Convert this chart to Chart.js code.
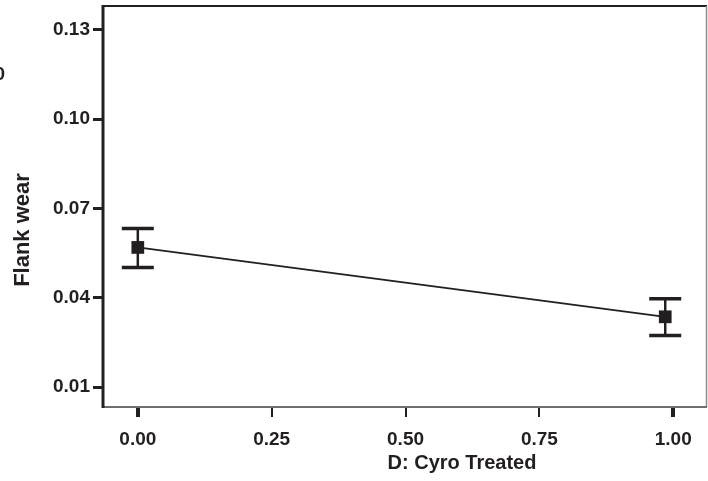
<!DOCTYPE html>
<html>
<head>
<meta charset="utf-8">
<script src="https://cdn.jsdelivr.net/npm/chart.js@4"></script>
<style>
html,body{margin:0;padding:0;background:#fff;overflow:hidden;}
#wrap{width:708px;height:481px;position:relative;overflow:hidden;}
#c{display:block;margin-top:-3px;}
</style>
</head>
<body>
<div id="wrap"><canvas id="c" width="716" height="484"></canvas></div>
<script>
// ---- data ----
const xValues = [0.0, 0.985];
const meanValues = [0.0569, 0.0336];
const upperValues = [0.0633, 0.0397];
const lowerValues = [0.0502, 0.0273];
const yTickLabels = [0.01, 0.04, 0.07, 0.10, 0.13];
const xTickLabels = [0.00, 0.25, 0.50, 0.75, 1.00];
const xTitle = 'D: Cyro Treated';
const yTitle = 'Flank wear';

const INK = '#231f20';
const FONT = '"Liberation Sans", Arial, sans-serif';
const SHIFT = 3; // canvas is offset upward by this many pixels

const errorBars = {
  id: 'errorBars',
  beforeDatasetsDraw(chart) {
    const ctx = chart.ctx, xs = chart.scales.x, ys = chart.scales.y;
    ctx.save();
    ctx.strokeStyle = INK;
    for (let i = 0; i < xValues.length; i++) {
      const px = xs.getPixelForValue(xValues[i]);
      const pt = ys.getPixelForValue(upperValues[i]);
      const pb = ys.getPixelForValue(lowerValues[i]);
      ctx.lineWidth = 2.5;
      ctx.beginPath(); ctx.moveTo(px, pt); ctx.lineTo(px, pb); ctx.stroke();
      ctx.lineWidth = 3.5;
      ctx.beginPath();
      ctx.moveTo(px - 16, pt); ctx.lineTo(px + 16, pt);
      ctx.moveTo(px - 16, pb); ctx.lineTo(px + 16, pb);
      ctx.stroke();
    }
    ctx.restore();
  }
};

const frame = {
  id: 'frame',
  afterDraw(chart) {
    const ctx = chart.ctx, a = chart.chartArea;
    ctx.save();
    ctx.strokeStyle = INK; ctx.lineWidth = 2;
    ctx.beginPath(); ctx.moveTo(a.left, a.top); ctx.lineTo(a.right, a.top); ctx.stroke();
    ctx.strokeStyle = '#8a8a8a'; ctx.lineWidth = 1.5;
    ctx.beginPath(); ctx.moveTo(a.right - 0.5, a.top); ctx.lineTo(a.right - 0.5, a.bottom); ctx.stroke();
    ctx.strokeStyle = '#6e6e6e'; ctx.lineWidth = 2;
    ctx.beginPath(); ctx.moveTo(a.left, a.bottom); ctx.lineTo(a.right, a.bottom); ctx.stroke();
    ctx.strokeStyle = INK; ctx.lineWidth = 3;
    ctx.beginPath(); ctx.moveTo(a.left, a.top - 1); ctx.lineTo(a.left, a.bottom + 1); ctx.stroke();
    // titles
    ctx.fillStyle = INK;
    ctx.font = 'bold 20px ' + FONT;
    ctx.textAlign = 'center'; ctx.textBaseline = 'middle';
    ctx.fillText(xTitle, 462, 463 + SHIFT);
    ctx.save();
    ctx.font = 'bold 22px ' + FONT;
    ctx.translate(23, 230 + SHIFT); ctx.rotate(-Math.PI / 2);
    ctx.fillText(yTitle, 0, 0);
    ctx.restore();
    // clipped stray label at top-left
    ctx.font = 'bold 19px ' + FONT;
    ctx.textAlign = 'right';
    ctx.fillText('0', 5, 75 + SHIFT);
    ctx.restore();
  }
};

new Chart(document.getElementById('c'), {
  type: 'scatter',
  data: {
    datasets: [{
      data: xValues.map((x, i) => ({x: x, y: meanValues[i]})),
      showLine: true,
      borderColor: INK,
      borderWidth: 1.8,
      backgroundColor: INK,
      pointStyle: 'rect',
      pointRadius: 9,
      pointHoverRadius: 9,
      pointBorderWidth: 0
    }]
  },
  options: {
    responsive: false,
    animation: false,
    events: [],
    layout: {padding: {top: 6, right: 1, left: 0, bottom: 0}},
    plugins: {legend: {display: false}, tooltip: {enabled: false}},
    scales: {
      x: {
        type: 'linear',
        min: -0.065, max: 1.063,
        afterBuildTicks(s) { s.ticks = xTickLabels.map(v => ({value: v})); },
        afterFit(s) { s.height = 74; s.paddingLeft = 0; s.paddingRight = 0; },
        grid: {drawOnChartArea: false, drawTicks: true, tickLength: 10, color: INK,
               lineWidth: (c) => (c.index === 0 || c.index === 4) ? 4 : 2},
        border: {display: false},
        ticks: {color: INK, font: {family: FONT, size: 19, weight: 'bold'}, padding: 11,
                callback: (v) => Number(v).toFixed(2), maxRotation: 0}
      },
      y: {
        type: 'linear',
        min: 0.0033, max: 0.138,
        afterBuildTicks(s) { s.ticks = yTickLabels.map(v => ({value: v})); },
        afterFit(s) { s.width = 103; s.paddingTop = 0; s.paddingBottom = 0; },
        grid: {drawOnChartArea: false, drawTicks: true, tickLength: 10, color: INK, lineWidth: 3},
        border: {display: false},
        ticks: {color: INK, font: {family: FONT, size: 19, weight: 'bold'}, padding: 3,
                callback: (v) => Number(v).toFixed(2)}
      }
    }
  },
  plugins: [errorBars, frame]
});
</script>
</body>
</html>
